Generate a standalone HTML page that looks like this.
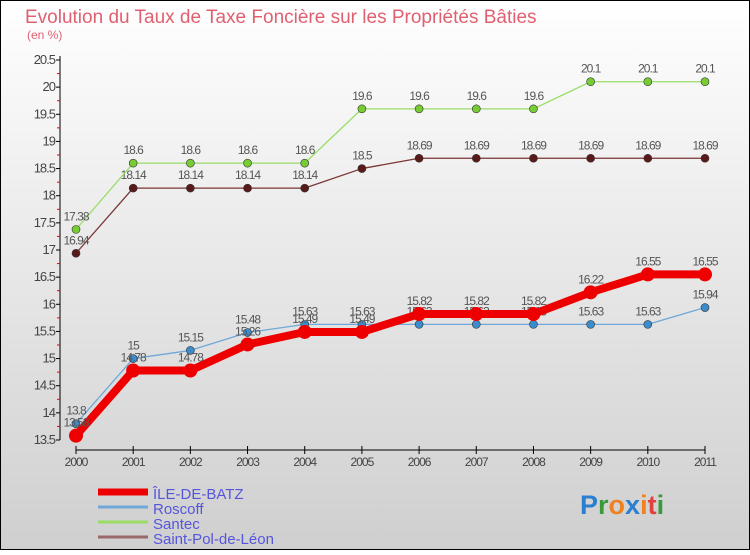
<!DOCTYPE html>
<html><head><meta charset="utf-8"><style>
body{margin:0}
svg text{font-family:"Liberation Sans",sans-serif}
</style></head><body>
<svg id="c" width="750" height="550" xmlns="http://www.w3.org/2000/svg">
<defs><linearGradient id="bg" x1="0" y1="0" x2="0" y2="1"><stop offset="0" stop-color="#ffffff"/><stop offset="1" stop-color="#cfcfcf"/></linearGradient></defs>
<rect x="0.5" y="0.5" width="749" height="549" fill="url(#bg)" stroke="#000"/>
<text x="25" y="23" font-size="19" fill="#e06070">Evolution du Taux de Taxe Foncière sur les Propriétés Bâties</text>
<text x="27" y="39" font-size="12" fill="#e06070">(en %)</text>
<g id="axes"></g><g id="series"></g>
<g id="legend" font-size="15" fill="#5555dd"></g>
<text x="580" y="514" font-size="27" font-weight="bold"><tspan fill="#2a7fd0">P</tspan><tspan fill="#3a9a3a">r</tspan><tspan fill="#f08020">o</tspan><tspan fill="#2a7fd0">x</tspan><tspan fill="#f08020">i</tspan><tspan fill="#e04040">t</tspan><tspan fill="#3a9a3a">i</tspan></text>
</svg>
<script>
const years=[2000,2001,2002,2003,2004,2005,2006,2007,2008,2009,2010,2011];
const yTicks=[13.5,14,14.5,15,15.5,16,16.5,17,17.5,18,18.5,19,19.5,20,20.5];
const batz=[13.58,14.78,14.78,15.26,15.49,15.49,15.82,15.82,15.82,16.22,16.55,16.55];
const roscoff=[13.8,15,15.15,15.48,15.63,15.63,15.63,15.63,15.63,15.63,15.63,15.94];
const santec=[17.38,18.6,18.6,18.6,18.6,19.6,19.6,19.6,19.6,20.1,20.1,20.1];
const stpol=[16.94,18.14,18.14,18.14,18.14,18.5,18.69,18.69,18.69,18.69,18.69,18.69];
const names=["ÎLE-DE-BATZ","Roscoff","Santec","Saint-Pol-de-Léon"];
const NS="http://www.w3.org/2000/svg";
const X=i=>76+i*(705-76)/11;
const Y=v=>440-(v-13.5)*380/7;
function mk(t,a,p){const e=document.createElementNS(NS,t);for(const k in a)e.setAttribute(k,a[k]);p.appendChild(e);return e;}
const ax=document.getElementById('axes');
let l=mk('line',{x1:60,y1:56,x2:60,y2:440,stroke:'#000'},ax);


l=mk('line',{x1:76,y1:450,x2:705,y2:450,stroke:'#000'},ax);


yTicks.forEach(v=>{
 mk('line',{x1:56,y1:Y(v),x2:60,y2:Y(v),stroke:'#000'},ax);
 if(v<20.5)mk('line',{x1:57,y1:Y(v+0.25),x2:60,y2:Y(v+0.25),stroke:'#e00'},ax);
 const t=mk('text',{x:55,y:Y(v)+4,'font-size':13,fill:'#444','text-anchor':'end','letter-spacing':'-1'},ax);
 t.textContent=v;
 
 
});
years.forEach((y,i)=>{
 mk('line',{x1:X(i),y1:446,x2:X(i),y2:454,stroke:'#000'},ax);
 const t=mk('text',{x:X(i),y:466,'font-size':12,fill:'#444','text-anchor':'middle','letter-spacing':'-1'},ax);
 t.textContent=y;
 
 
});
const sg=document.getElementById('series');
const defs=[[stpol,'#7a3535','#5a1a1a',1.3,4],[santec,'#99dd66','#77cc33',1.3,4],[roscoff,'#6fa8d8','#3b8ccc',1.3,4],[batz,'#ee0000','#ee0000',8,7]];
const snames=['saint-pol-de-leon','santec','roscoff','ile-de-batz'];
defs.forEach((d,k)=>{
 const g=mk('g',{},sg);
 
 
 const p=mk('polyline',{points:d[0].map((v,i)=>X(i)+','+Y(v)).join(' '),fill:'none',stroke:d[1],'stroke-width':d[3],'stroke-linejoin':'round'},g);
 
 
 d[0].forEach((v,i)=>{
  const c=mk('circle',{cx:X(i),cy:Y(v),r:d[4],fill:d[2],stroke:'#333','stroke-width':k==3?0:0.6},g);
  
  
  const t=mk('text',{x:X(i),y:Y(v)-9,'font-size':12,fill:'#555','text-anchor':'middle','letter-spacing':'-1'},g);
  t.textContent=v;
  
  
 });
});
const lg=document.getElementById('legend');
const lc=['#ee0000','#6fa8d8','#99dd66','#9a6a6a'],lw=[7,3,3,3];
names.forEach((n,i)=>{
 const y=492+i*15;
 const r=mk('rect',{x:98,y:y-lw[i]/2,width:50,height:lw[i],fill:lc[i]},lg);
 
 
 const t=mk('text',{x:153,y:y+7},lg);
 t.textContent=n;
 
 
});
</script>
</body></html>
